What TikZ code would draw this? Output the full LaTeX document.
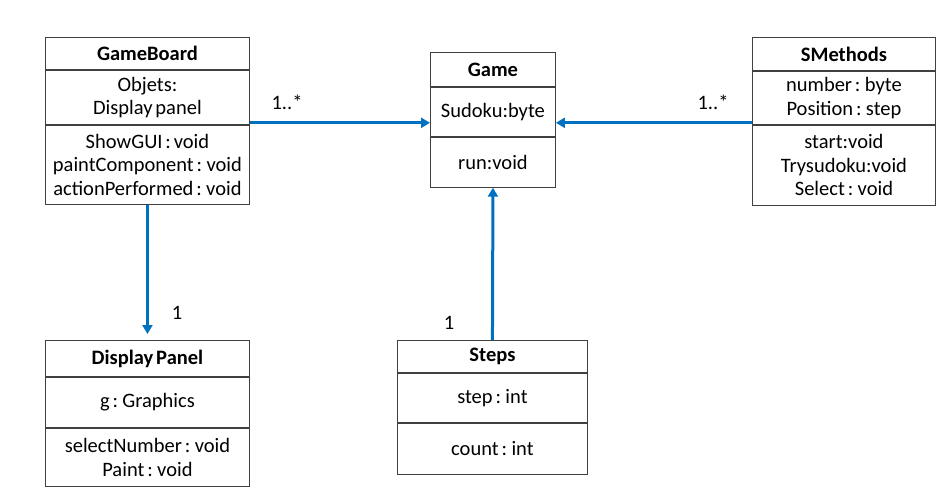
\documentclass[tikz,border=0pt]{standalone}
\usepackage{fontspec}
\setmainfont{Carlito}
\usetikzlibrary{positioning,arrows.meta}
\definecolor{linkblue}{RGB}{0,112,192}
\newcommand{\umlfont}{\fontsize{20.5}{23.5}\selectfont\spaceskip=0.14em}

\begin{document}
\begin{tikzpicture}[
    x=1pt, y=1pt,
    every node/.style={font=\umlfont},
    box/.style={rectangle, draw=black!75, line width=0.9pt, fill=white, align=center, inner sep=2pt},
    classtitle/.style={box, font=\umlfont\bfseries},
    assoc/.style={draw=linkblue, line width=3pt, -{Triangle[length=9pt,width=10pt]}}, % associations
    mult/.style={text=black} % multiplicities
]
\useasboundingbox (0,0) rectangle (950,-500);

% GameBoard
\node[classtitle, anchor=north west, minimum width=204pt, minimum height=32pt] (gameboard) at (45,-37) {GameBoard};
\node[box, below=0pt of gameboard, minimum width=204pt, minimum height=54pt] (gameboard-attr) {Objets:\\Display panel};
\node[box, below=0pt of gameboard-attr, minimum width=204pt, minimum height=79pt] (gameboard-meth) {ShowGUI : void\\paintComponent : void\\actionPerformed : void};

% Game
\node[classtitle, anchor=north west, minimum width=125pt, minimum height=34pt] (game) at (430,-52) {Game};
\node[box, below=0pt of game, minimum width=125pt, minimum height=49pt] (game-attr) {Sudoku:byte};
\node[box, below=0pt of game-attr, minimum width=125pt, minimum height=50pt] (game-meth) {run:void};

% SMethods
\node[classtitle, anchor=north west, minimum width=183pt, minimum height=33pt] (smethods) at (752,-37) {SMethods};
\node[box, below=0pt of smethods, minimum width=183pt, minimum height=53pt] (smethods-attr) {number : byte\\Position : step};
\node[box, below=0pt of smethods-attr, minimum width=183pt, minimum height=80pt] (smethods-meth) {start:void\\Trysudoku:void\\Select : void};

% Display Panel
\node[classtitle, anchor=north west, minimum width=204pt, minimum height=36pt] (dpanel) at (45,-340) {Display Panel};
\node[box, below=0pt of dpanel, minimum width=204pt, minimum height=50pt] (dpanel-attr) {g : Graphics};
\node[box, below=0pt of dpanel-attr, minimum width=204pt, minimum height=58pt] (dpanel-meth) {selectNumber : void\\Paint : void};

% Steps
\node[classtitle, anchor=north west, minimum width=190pt, minimum height=32pt] (steps) at (397,-340) {Steps};
\node[box, below=0pt of steps, minimum width=190pt, minimum height=49pt] (steps-attr) {step : int};
\node[box, below=0pt of steps-attr, minimum width=190pt, minimum height=51pt] (steps-meth) {count : int};

% associations
\coordinate (gb-out) at ([yshift=2pt]gameboard-attr.south east);
\coordinate (sm-out) at ([yshift=2pt]smethods-attr.south west);
\draw[assoc] (gb-out) -- (gb-out -| game-attr.west);
\draw[assoc] (sm-out) -- (sm-out -| game-attr.east);
\draw[assoc, shorten >=6pt] (gameboard-meth.south) -- (dpanel.north);
\draw[assoc] (steps.north) -- (game-meth.south);

\node[mult] (gb-mult) at (287,-102) {1..*};
\node[mult] (sm-mult) at (713,-102) {1..*};
\node[mult] (dp-mult) at (177,-313) {1};
\node[mult] (st-mult) at (449,-323) {1};
\end{tikzpicture}
\end{document}
